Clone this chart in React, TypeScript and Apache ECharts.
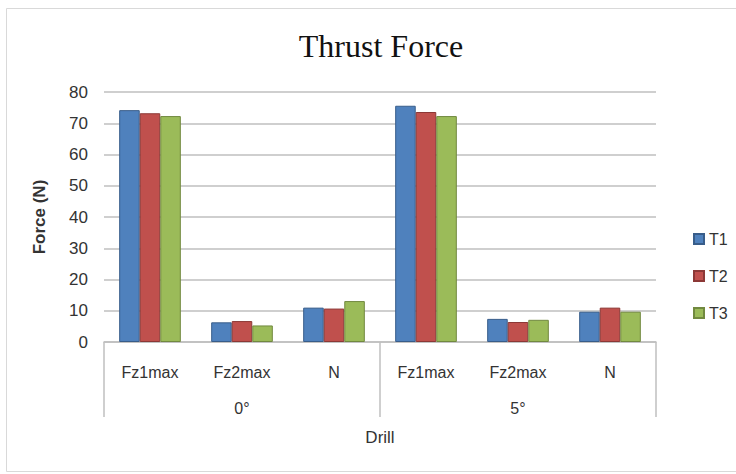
import React, { useEffect, useRef } from "react";
import * as echarts from "echarts";

const categories = ["Fz1max", "Fz2max", "N", "Fz1max", "Fz2max", "N"];
const groups = ["0°", "5°"];
const seriesNames = ["T1", "T2", "T3"];
const t1 = [74.2, 6.3, 11.0, 75.6, 7.4, 9.7];
const t2 = [73.2, 6.7, 10.7, 73.6, 6.4, 11.0];
const t3 = [72.3, 5.3, 13.1, 72.3, 7.1, 9.7];
const yTicks = [0, 10, 20, 30, 40, 50, 60, 70, 80];

const fills = ["#4F81BD", "#C0504D", "#9BBB59"];
const borders = ["#385D8A", "#8C3836", "#71893F"];

export default function App() {
  const ref = useRef<HTMLDivElement>(null);
  useEffect(() => {
    if (!ref.current) return;
    const chart = echarts.init(ref.current, undefined, { renderer: "svg" });
    const values = [t1, t2, t3];
    const sans = "Liberation Sans";
    chart.setOption({
      animation: false,
      backgroundColor: "#ffffff",
      title: {
        text: "Thrust Force",
        left: 376,
        top: 25,
        textAlign: "center",
        textStyle: { fontFamily: "Liberation Serif", fontSize: 32, fontWeight: "normal", color: "#111" },
      },
      graphic: [
        {
          type: "rect",
          shape: { x: 6.5, y: 8.5, width: 740, height: 463 },
          style: { fill: "none", stroke: "#D9D9D9", lineWidth: 1 },
          silent: true,
        },
      ],
      legend: {
        orient: "vertical",
        left: 688,
        top: 226,
        itemWidth: 10,
        itemHeight: 10,
        itemGap: 21,
        icon: "rect",
        data: seriesNames,
        textStyle: { fontFamily: sans, fontSize: 16, color: "#333", padding: [0, 0, 0, 0] },
      },
      grid: { left: 104, right: 80, top: 92, bottom: 132, containLabel: false },
      xAxis: [
        {
          type: "category",
          data: categories,
          position: "bottom",
          axisLine: { show: true, lineStyle: { color: "#BFBFBF", width: 1.5 } },
          axisTick: { show: false },
          axisLabel: { fontFamily: sans, fontSize: 16, color: "#333", margin: 22, interval: 0 },
        },
        {
          type: "category",
          data: groups,
          position: "bottom",
          axisLine: { show: false },
          axisTick: { show: true, length: 75, lineStyle: { color: "#BFBFBF", width: 1.5 } },
          axisLabel: { fontFamily: sans, fontSize: 16, color: "#333", margin: 58 },
          name: "Drill",
          nameLocation: "middle",
          nameGap: 87,
          nameTextStyle: { fontFamily: sans, fontSize: 17, color: "#333" },
        },
      ],
      yAxis: {
        type: "value",
        min: yTicks[0],
        max: yTicks[yTicks.length - 1],
        interval: 10,
        axisLine: { show: false },
        axisTick: { show: false },
        axisLabel: { fontFamily: sans, fontSize: 17, color: "#333", margin: 16 },
        splitLine: { lineStyle: { color: "#BFBFBF", width: 1.5 } },
        name: "Force (N)",
        nameLocation: "middle",
        nameGap: 56,
        nameTextStyle: { fontFamily: sans, fontSize: 17, fontWeight: 600, color: "#333" },
      },
      series: seriesNames.map((n, i) => ({
        name: n,
        type: "bar",
        xAxisIndex: 0,
        data: values[i],
        barGap: "0%",
        barCategoryGap: "33%",
        itemStyle: { color: fills[i], borderColor: borders[i], borderWidth: 1 },
      })),
    });
    return () => chart.dispose();
  }, []);
  return <div ref={ref} style={{ width: 736, height: 474, position: "absolute", left: 0, top: 0 }} />;
}
